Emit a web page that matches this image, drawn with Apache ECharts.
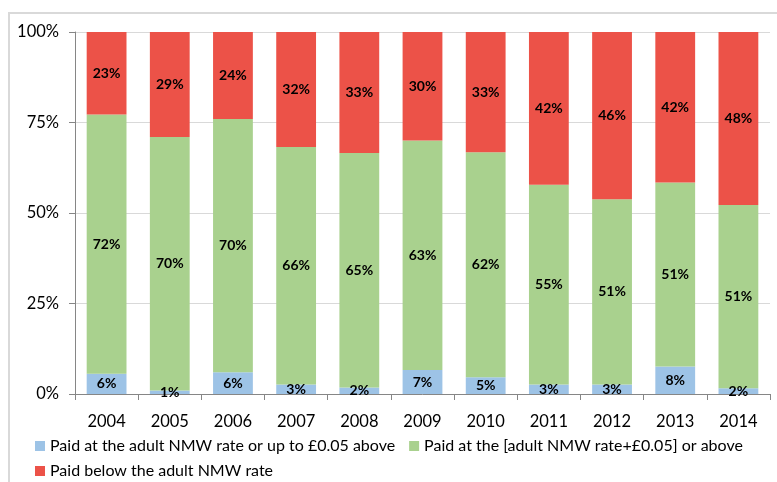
<!DOCTYPE html>
<html>
<head>
<meta charset="utf-8">
<script src="https://cdn.jsdelivr.net/npm/echarts@6/dist/echarts.min.js"></script>
<style>html,body{margin:0;padding:0;background:#fff}#c{width:777px;height:482px}</style>
</head>
<body>
<div id="c"></div>
<script>
var years = ['2004','2005','2006','2007','2008','2009','2010','2011','2012','2013','2014'];
var seriesNames = ['Paid at the adult NMW rate or up to £0.05 above','Paid at the [adult NMW rate+£0.05] or above','Paid below the adult NMW rate'];
var atRate    = [5.6, 1.0, 6.0, 2.6, 1.8, 6.6, 4.6, 2.6, 2.6, 7.6, 1.6];
var aboveRate = [71.6, 70.0, 70.0, 65.6, 64.8, 63.4, 62.2, 55.2, 51.2, 50.8, 50.6];
var belowRate = [22.8, 29.0, 24.0, 31.8, 33.4, 30.0, 33.2, 42.2, 46.2, 41.6, 47.8];
var yTicks = [0, 25, 50, 75, 100];
var colors = ['#9DC3E6', '#A9D18E', '#EC5248'];

var FONT = 'Lato, "Open Sans", sans-serif';
var chart = echarts.init(document.getElementById('c'), null, {renderer: 'canvas'});
function mk(name, data, color) {
  return {
    name: name, type: 'bar', stack: 'all', data: data, barWidth: '63%',
    itemStyle: {color: color},
    label: {show: true, position: 'inside', color: '#000', fontWeight: 'bold', fontSize: 14, fontFamily: FONT,
      formatter: function (p) { return Math.round(p.value) + '%'; }},
    emphasis: {disabled: true}
  };
}
chart.setOption({
  animation: false,
  graphic: [{type: 'rect', shape: {x: 9, y: 13, width: 800, height: 500}, style: {fill: 'none', stroke: '#D9D9D9', lineWidth: 2}, silent: true}],
  grid: {left: 75, right: 7, top: 32, bottom: 88},
  legend: [
    {data: [seriesNames[0], seriesNames[1]], left: 30, top: 433, itemWidth: 10, itemHeight: 10, itemGap: 14,
     icon: 'rect', textStyle: {fontSize: 16, fontFamily: FONT, color: '#000'}, selectedMode: false},
    {data: [seriesNames[2]], left: 30, top: 458, itemWidth: 10, itemHeight: 10,
     icon: 'rect', textStyle: {fontSize: 16, fontFamily: FONT, color: '#000'}, selectedMode: false}
  ],
  xAxis: {
    type: 'category', data: years,
    axisLine: {lineStyle: {color: '#868686'}},
    axisTick: {show: true, length: 6, lineStyle: {color: '#868686'}},
    axisLabel: {fontSize: 16.5, fontFamily: FONT, color: '#000', margin: 19}
  },
  yAxis: {
    type: 'value', min: 0, max: 100, interval: 25,
    axisLine: {show: true, lineStyle: {color: '#868686'}},
    axisTick: {show: true, length: 6, lineStyle: {color: '#868686'}},
    splitLine: {lineStyle: {color: '#D9D9D9'}},
    axisLabel: {fontSize: 16.5, fontFamily: FONT, color: '#000', margin: 16,
      formatter: function (v) { return yTicks.indexOf(v) >= 0 ? v + '%' : ''; }}
  },
  series: [mk(seriesNames[0], atRate, colors[0]), mk(seriesNames[1], aboveRate, colors[1]), mk(seriesNames[2], belowRate, colors[2])]
});
</script>
</body>
</html>
